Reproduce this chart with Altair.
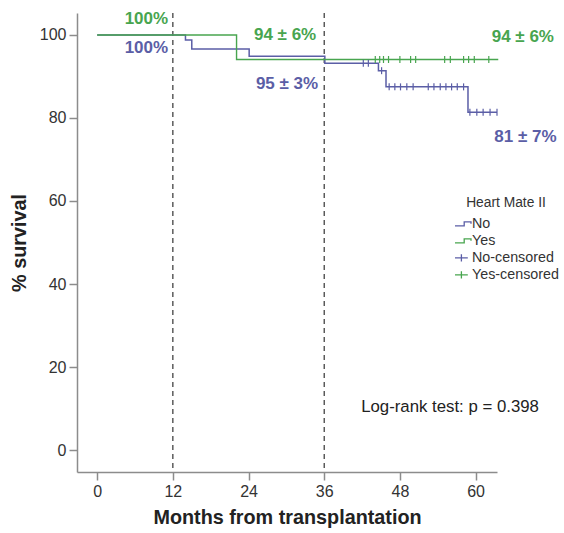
import altair as alt
import pandas as pd

PURPLE = "#5b5ea6"
GREEN = "#48a54f"
FONT = "Liberation Sans"

# Kaplan-Meier step curves: month of each event and survival (%) after it
no_months = [0, 14.0, 15.0, 24.1, 36.1, 44.6, 45.8, 58.8, 63.4]
no_surv = [100, 98.8, 96.6, 94.9, 93.2, 91.4, 87.5, 81.4, 81.4]
yes_months = [0, 22.1, 63.6]
yes_surv = [100, 94.1, 94.1]

# censored observations
no_cens_months = [42.2, 43.0, 45.1, 46.3, 47.2, 48.1, 49.1, 50.1, 52.5, 53.4,
                  54.4, 55.3, 56.2, 57.1, 58.1, 59.1, 60.2, 61.2, 62.3, 63.4]
no_cens_surv = [93.2, 93.2, 91.4, 87.5, 87.5, 87.5, 87.5, 87.5, 87.5, 87.5,
                87.5, 87.5, 87.5, 87.5, 87.5, 81.4, 81.4, 81.4, 81.4, 81.4]
yes_cens_months = [44.1, 44.8, 45.4, 46.2, 48.0, 49.7, 50.5, 55.1, 56.0, 58.1,
                   58.9, 59.8, 62.1]
yes_cens_surv = [94.1, 94.1, 94.1, 94.1, 94.1, 94.1, 94.1, 94.1, 94.1, 94.1,
                 94.1, 94.1, 94.1]

# survival estimates written on the plot
label_text = ["100%", "100%", "94 ± 6%", "95 ± 3%", "94 ± 6%", "81 ± 7%"]
label_month = [7.8, 7.8, 29.8, 30.1, 67.5, 67.9]
label_pct = [103.9, 96.9, 100.0, 88.3, 99.5, 75.4]
label_group = ["Yes", "No", "Yes", "No", "Yes", "No"]

landmark_months = [12, 36]
groups = ["No", "Yes", "No-censored", "Yes-censored"]
x_ticks = [0, 12, 24, 36, 48, 60]
y_ticks = [0, 20, 40, 60, 80, 100]

STEP = "M-1,0.25H0.15V-0.25H1V0"
CROSS = "M-1,0H0.6M-0.2,-0.45V0.45"

color_scale = alt.Scale(domain=groups, range=[PURPLE, GREEN, PURPLE, GREEN])
shape_scale = alt.Scale(domain=groups, range=[STEP, STEP, CROSS, CROSS])

legend = alt.Legend(
    title="Heart Mate II", orient="none", legendX=377, legendY=183, padding=0,
    symbolSize=256, symbolStrokeWidth=1.3, symbolFillColor="transparent",
    labelFont=FONT, titleFont=FONT, labelFontSize=14.3, titleFontSize=13.8,
    titleFontWeight="normal", labelOffset=0, rowPadding=0, titlePadding=5,
    titleAnchor="middle", labelColor="#333", titleColor="#333",
)

x_enc = alt.X(
    "month:Q",
    scale=alt.Scale(domain=[-3.2, 63.4], nice=False, zero=False),
    axis=alt.Axis(values=x_ticks, title="Months from transplantation", titlePadding=8),
)
y_enc = alt.Y(
    "pct:Q",
    scale=alt.Scale(domain=[-5.3, 105.3], nice=False, zero=False),
    axis=alt.Axis(values=y_ticks, title="% survival", titlePadding=10),
)
color_enc = alt.Color("grp:N", scale=color_scale, legend=legend)

no_df = pd.DataFrame({"month": no_months, "pct": no_surv, "grp": "No"})
yes_df = pd.DataFrame({"month": yes_months, "pct": yes_surv, "grp": "Yes"})
cens_df = pd.concat([
    pd.DataFrame({"month": no_cens_months, "pct": no_cens_surv, "grp": "No-censored"}),
    pd.DataFrame({"month": yes_cens_months, "pct": yes_cens_surv, "grp": "Yes-censored"}),
])
label_df = pd.DataFrame({
    "month": label_month, "pct": label_pct, "text": label_text,
    "col": [PURPLE if g == "No" else GREEN for g in label_group],
})
# legend-only rows (no position, so no mark is drawn)
key_df = pd.DataFrame({"month": [None] * 4, "pct": [None] * 4, "grp": groups})

rules = alt.Chart(pd.DataFrame({"month": landmark_months})).mark_rule(
    strokeDash=[5, 4], color="#333", strokeWidth=1.2
).encode(x=x_enc)

no_line = alt.Chart(no_df).mark_line(interpolate="step-after", strokeWidth=1.5).encode(
    x=x_enc, y=y_enc, color=color_enc
)
yes_line = alt.Chart(yes_df).mark_line(interpolate="step-after", strokeWidth=1.4).encode(
    x=x_enc, y=y_enc, color=color_enc
)
censored = alt.Chart(cens_df).mark_point(
    shape="M0,-1V1", size=49, filled=False, strokeWidth=1.2, opacity=1
).encode(x=x_enc, y=y_enc, color=color_enc)

key = alt.Chart(key_df).mark_point(filled=False, opacity=1).encode(
    x=x_enc, y=y_enc, color=color_enc,
    shape=alt.Shape("grp:N", scale=shape_scale, legend=legend),
)

labels = alt.Chart(label_df).mark_text(
    font=FONT, fontSize=17, fontWeight="bold"
).encode(x=x_enc, y=y_enc, text="text:N", color=alt.Color("col:N", scale=None))

logrank = alt.Chart(pd.DataFrame({"month": [55.95], "pct": [10.35],
                                  "text": ["Log-rank test: p = 0.398"]})).mark_text(
    font=FONT, fontSize=16.8, color="#222"
).encode(x=x_enc, y=y_enc, text="text:N")

chart = alt.layer(rules, no_line, yes_line, censored, key, labels, logrank).properties(
    width=420, height=459,
    padding={"left": 77, "top": 13, "right": 67, "bottom": 61},
    autosize=alt.AutoSizeParams(type="none"),
).configure_view(stroke=None).configure_axis(
    grid=False, domainColor="#8c8c8c", tickColor="#8c8c8c", domainWidth=1.5,
    tickWidth=1.5, tickSize=8, labelFont=FONT, labelFontSize=16, labelColor="#333",
    labelPadding=3, titleFont=FONT, titleFontSize=19.8, titleFontWeight="bold",
    titleColor="#222",
)

chart.save("out.html", embed_options={"renderer": "svg", "actions": False})
